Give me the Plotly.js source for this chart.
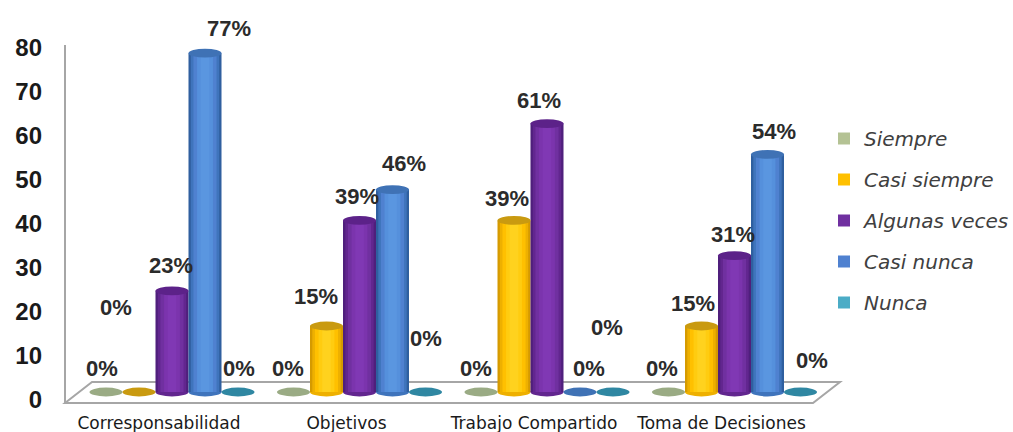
<!DOCTYPE html>
<html><head><meta charset="utf-8">
<script src="https://cdn.plot.ly/plotly-3.0.1.min.js"></script>
<style>html,body{margin:0;padding:0;background:#fff}#c{width:1013px;height:432px}</style>
</head><body><div id="c"></div>
<script>
const categories = ["Corresponsabilidad","Objetivos","Trabajo Compartido","Toma de Decisiones"];
const seriesNames = ["Siempre","Casi siempre","Algunas veces","Casi nunca","Nunca"];
const siempre = [0,0,0,0];
const casiSiempre = [0,15,39,15];
const algunasVeces = [23,39,61,31];
const casiNunca = [77,46,0,54];
const nunca = [0,0,0,0];
const seriesValues = [siempre,casiSiempre,algunasVeces,casiNunca,nunca];
const yTicks = [0,10,20,30,40,50,60,70,80];

// visual style: edge -> centre shades of each cylinder, cap colour, zero-ellipse colour
const shades = [
  ["#8a9a72","#9aab84","#b4c294","#c3d09b","#cfdaaa"],
  ["#d59a00","#eeb000","#ffc000","#ffcc10","#ffd21e"],
  ["#4f1f7c","#62268f","#7030a0","#7b34ad","#8038b4"],
  ["#2f5f9f","#3f74bc","#4f81d0","#5590dc","#5a96e0"],
  ["#2a7a92","#31849b","#4bacc6","#4bacc6","#4bacc6"]
];
const capColors = ["#9aab84","#c99a10","#5c2289","#3f72b5","#2f87a2"];
const stripWidths = [1,0.86,0.7,0.48,0.26];
const barWidth = 0.176;

// data label text with pixel placement [text, px, py]
const labels = [
  ["77%",229,28],["23%",171,265],["0%",116,307],["0%",102,368],["0%",239,368],
  ["0%",288,368],["15%",316,296],["39%",357,197],["46%",404,163],["0%",426,338],
  ["0%",476,368],["39%",507,198],["61%",539,100],["0%",607,327],["0%",589,368],
  ["0%",662,368],["15%",693,303],["31%",733,234],["54%",774,131],["0%",812,360]
];

const L=65,R=840,T=38,B=405,Y0=392,PXU=4.40;
const xp=p=>(p-L)/(R-L), yp=p=>(B-p)/(B-T);

const traces=[];
seriesNames.forEach((name,s)=>{
  stripWidths.forEach((w,k)=>{
    const bw=barWidth*w;
    traces.push({
      type:"bar",x:categories,y:seriesValues[s],name:name,
      width:bw,offset:(s-2)*barWidth-bw/2,
      marker:{color:shades[s][k],line:{width:0}},
      legendgroup:name,showlegend:k===2,hoverinfo:"skip",
      cliponaxis:true
    });
  });
});

const shapes=[];
const capH=1.0;
// floor
shapes.push({type:"path",xref:"paper",yref:"paper",layer:"below",
  path:`M${xp(65)},${yp(403)} L${xp(92)},${yp(382)} L${xp(840)},${yp(382)} L${xp(813)},${yp(403)} Z`,
  fillcolor:"#ffffff",line:{color:"#a6a6a6",width:2}});
// back wall line
shapes.push({type:"line",xref:"paper",yref:"paper",layer:"below",x0:xp(65),x1:xp(65),y0:yp(403),y1:yp(45),
  line:{color:"#a6a6a6",width:2}});
seriesValues.forEach((vals,s)=>{
  vals.forEach((v,g)=>{
    const cx=g+(s-2)*barWidth;
    const x0=cx-barWidth/2,x1=cx+barWidth/2;
    if(v>0){
      shapes.push({type:"circle",xref:"x",yref:"y",layer:"below",x0,x1,y0:-capH,y1:capH,
        fillcolor:shades[s][1],line:{width:0}});
    }
    shapes.push({type:"circle",xref:"x",yref:"y",layer:"above",x0,x1,y0:v-capH,y1:v+capH,
      fillcolor:capColors[s],line:{width:0}});
  });
});

const annotations=labels.map(([t,px,py])=>({
  text:t,xref:"paper",yref:"paper",x:xp(px),y:yp(py),xanchor:"center",yanchor:"middle",
  showarrow:false,font:{family:"Liberation Sans",size:22,color:"#2b2b2b",weight:"bold"}
}));

const layout={
  width:1013,height:432,paper_bgcolor:"#fff",plot_bgcolor:"rgba(0,0,0,0)",
  margin:{l:L,r:1013-R,t:T,b:432-B,pad:0,autoexpand:false},
  barmode:"overlay",showlegend:true,
  xaxis:{type:"category",categories:categories,range:[(L-172)/187.5,(R-172)/187.5],
    showgrid:false,zeroline:false,showline:false,ticks:"",
    tickfont:{family:"DejaVu Sans",size:17,color:"#1a1a1a"},ticklabelshift:-13,ticklabelstandoff:6},
  yaxis:{range:[(Y0-B)/PXU,(Y0-T)/PXU],tickvals:yTicks,ticktext:yTicks.map(String),
    showgrid:false,zeroline:false,showline:false,ticks:"",
    tickfont:{family:"Liberation Sans",size:24,color:"#1a1a1a",weight:"bold"},
    ticklabelshift:8,ticklabelstandoff:22},
  legend:{x:(824-L)/(R-L),y:yp(119),xanchor:"left",yanchor:"top",traceorder:"grouped",
    tracegroupgap:12,bgcolor:"rgba(0,0,0,0)",
    font:{family:"DejaVu Sans",size:20,color:"#404040",style:"italic"}},
  shapes,annotations
};
Plotly.newPlot("c",traces,layout,{displayModeBar:false,staticPlot:true});
</script></body></html>
